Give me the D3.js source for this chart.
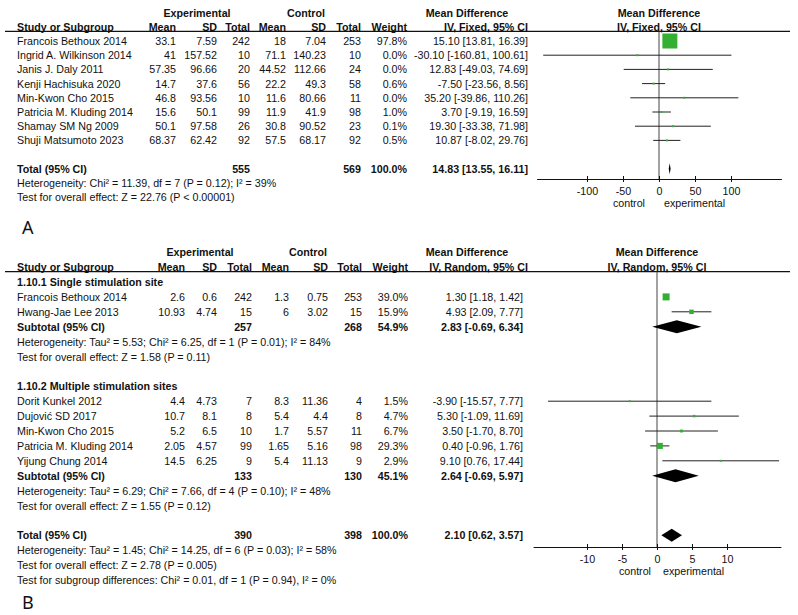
<!DOCTYPE html>
<html>
<head>
<meta charset="utf-8">
<script src="https://cdn.jsdelivr.net/npm/d3@7"></script>
<style>
  body { margin: 0; background: #fff; }
  svg text { font-family: "Liberation Sans", Arial, sans-serif; font-size: 10.7px; fill: #111; }
  .bold { font-weight: bold; }
</style>
</head>
<body>
<div id="chart"></div>
<script>
// ---------- Panel A data ----------
const studiesA = ["Francois Bethoux 2014", "Ingrid A. Wilkinson 2014", "Janis J. Daly 2011", "Kenji Hachisuka 2020",
  "Min-Kwon Cho 2015", "Patricia M. Kluding 2014", "Shamay SM Ng 2009", "Shuji Matsumoto 2023"];
const expMeanA = ["33.1", "41", "57.35", "14.7", "46.8", "15.6", "50.1", "68.37"];
const expSdA = ["7.59", "157.52", "96.66", "37.6", "93.56", "50.1", "97.58", "62.42"];
const expNA = [242, 10, 20, 56, 10, 99, 26, 92];
const ctlMeanA = ["18", "71.1", "44.52", "22.2", "11.6", "11.9", "30.8", "57.5"];
const ctlSdA = ["7.04", "140.23", "112.66", "49.3", "80.66", "41.9", "90.52", "68.17"];
const ctlNA = [253, 10, 24, 58, 11, 98, 23, 92];
const weightA = [97.8, 0.0, 0.0, 0.6, 0.0, 1.0, 0.1, 0.5];
const mdA = [15.10, -30.10, 12.83, -7.50, 35.20, 3.70, 19.30, 10.87];
const loA = [13.81, -160.81, -49.03, -23.56, -39.86, -9.19, -33.38, -8.02];
const hiA = [16.39, 100.61, 74.69, 8.56, 110.26, 16.59, 71.98, 29.76];
const totalA = { expN: 555, ctlN: 569, weight: 100.0, md: 14.83, lo: 13.55, hi: 16.11 };
const notesA = ["Heterogeneity: Chi\u00b2 = 11.39, df = 7 (P = 0.12); I\u00b2 = 39%",
  "Test for overall effect: Z = 22.76 (P < 0.00001)"];
const ticksA = [-100, -50, 0, 50, 100];

// ---------- Panel B data ----------
const groupNamesB = ["1.10.1 Single stimulation site", "1.10.2 Multiple stimulation sites"];
const studiesB = [["Francois Bethoux 2014", "Hwang-Jae Lee 2013"],
  ["Dorit Kunkel 2012", "Dujovi\u0107 SD 2017", "Min-Kwon Cho 2015", "Patricia M. Kluding 2014", "Yijung Chung 2014"]];
const expMeanB = [["2.6", "10.93"], ["4.4", "10.7", "5.2", "2.05", "14.5"]];
const expSdB = [["0.6", "4.74"], ["4.73", "8.1", "6.5", "4.57", "6.25"]];
const expNB = [[242, 15], [7, 8, 10, 99, 9]];
const ctlMeanB = [["1.3", "6"], ["8.3", "5.4", "1.7", "1.65", "5.4"]];
const ctlSdB = [["0.75", "3.02"], ["11.36", "4.4", "5.57", "5.16", "11.13"]];
const ctlNB = [[253, 15], [4, 8, 11, 98, 9]];
const weightB = [[39.0, 15.9], [1.5, 4.7, 6.7, 29.3, 2.9]];
const mdB = [[1.30, 4.93], [-3.90, 5.30, 3.50, 0.40, 9.10]];
const loB = [[1.18, 2.09], [-15.57, -1.09, -1.70, -0.96, 0.76]];
const hiB = [[1.42, 7.77], [7.77, 11.69, 8.70, 1.76, 17.44]];
const subtotalB = [
  { expN: 257, ctlN: 268, weight: 54.9, md: 2.83, lo: -0.69, hi: 6.34 },
  { expN: 133, ctlN: 130, weight: 45.1, md: 2.64, lo: -0.69, hi: 5.97 }];
const subNotesB = [
  ["Heterogeneity: Tau\u00b2 = 5.53; Chi\u00b2 = 6.25, df = 1 (P = 0.01); I\u00b2 = 84%",
   "Test for overall effect: Z = 1.58 (P = 0.11)"],
  ["Heterogeneity: Tau\u00b2 = 6.29; Chi\u00b2 = 7.66, df = 4 (P = 0.10); I\u00b2 = 48%",
   "Test for overall effect: Z = 1.55 (P = 0.12)"]];
const totalB = { expN: 390, ctlN: 398, weight: 100.0, md: 2.10, lo: 0.62, hi: 3.57 };
const notesB = ["Heterogeneity: Tau\u00b2 = 1.45; Chi\u00b2 = 14.25, df = 6 (P = 0.03); I\u00b2 = 58%",
  "Test for overall effect: Z = 2.78 (P = 0.005)",
  "Test for subgroup differences: Chi\u00b2 = 0.01, df = 1 (P = 0.94), I\u00b2 = 0%"];
const ticksB = [-10, -5, 0, 5, 10];

// plain hyphen as minus sign, like the original
const loc = d3.formatLocale({ decimal: ".", thousands: ",", grouping: [3], currency: ["", ""], minus: "-" });
const fmt2 = loc.format(".2f");
const fmtW = loc.format(".1f");
const fmtTick = loc.format("d");
const ciText = (m, l, h) => `${fmt2(m)} [${fmt2(l)}, ${fmt2(h)}]`;

const svg = d3.select("#chart").append("svg").attr("width", 798).attr("height", 615);

function txt(g, x, y, s, anchor, cls) {
  return g.append("text").attr("x", x).attr("y", y + 4)
    .attr("text-anchor", anchor || "start").attr("class", cls || null).text(s);
}

function diamond(g, x, y, md, lo, hi, h) {
  const p = [[x(lo), y], [x(md), y - h / 2], [x(hi), y], [x(md), y + h / 2]];
  g.append("path").attr("d", "M" + p.join("L") + "Z").attr("fill", "#000");
}

function drawPanel(cfg) {
  const g = svg.append("g");
  const c = cfg.cols;
  const y = i => cfg.y0 + cfg.dy * i;

  // headers
  txt(g, c.expHead, y(-2), "Experimental", "middle", "bold");
  txt(g, c.ctlHead, y(-2), "Control", "middle", "bold");
  txt(g, 467, y(-2), "Mean Difference", "middle", "bold");
  txt(g, cfg.x(0), y(-2), "Mean Difference", "middle", "bold");
  txt(g, 17, y(-1), "Study or Subgroup", "start", "bold");
  [["Mean", c.eMean], ["SD", c.eSd], ["Total", c.eN], ["Mean", c.cMean], ["SD", c.cSd], ["Total", c.cN], ["Weight", c.w]]
    .forEach(d => txt(g, d[1], y(-1), d[0], "end", "bold"));
  txt(g, 528, y(-1), cfg.method, "end", "bold");
  txt(g, cfg.x(0), y(-1), cfg.method, "middle", "bold");
  const lineY = y(-1) + 4.5;
  g.append("line").attr("x1", 5).attr("x2", 790).attr("y1", lineY).attr("y2", lineY)
    .attr("stroke", "#111").attr("stroke-width", 1.2);

  // zero line
  g.append("line").attr("x1", cfg.x(0)).attr("x2", cfg.x(0)).attr("y1", lineY).attr("y2", cfg.axisY)
    .attr("stroke", "#444").attr("stroke-width", 1);

  // rows
  cfg.rows.forEach(r => {
    const yy = y(r.i);
    if (r.type === "label") { txt(g, 17, yy, r.text, "start", "bold"); return; }
    if (r.type === "note") { txt(g, 17, yy, r.text); return; }
    const cls = r.type === "study" ? null : "bold";
    txt(g, 17, yy, r.name, "start", cls);
    if (r.type === "study") {
      txt(g, c.eMean, yy, r.eMean, "end");
      txt(g, c.eSd, yy, r.eSd, "end");
      txt(g, c.cMean, yy, r.cMean, "end");
      txt(g, c.cSd, yy, r.cSd, "end");
    }
    txt(g, c.eN, yy, r.eN, "end", cls);
    txt(g, c.cN, yy, r.cN, "end", cls);
    txt(g, c.w, yy, fmtW(r.w) + "%", "end", cls);
    txt(g, c.ci, yy, ciText(r.md, r.lo, r.hi), "end", cls);
    if (r.type === "study") {
      g.append("line").attr("x1", cfg.x(r.lo)).attr("x2", cfg.x(r.hi)).attr("y1", yy).attr("y2", yy)
        .attr("stroke", "#222").attr("stroke-width", 1);
      const s = Math.max(2, cfg.size(r.w));
      g.append("rect").attr("x", cfg.x(r.md) - s / 2).attr("y", yy - s / 2)
        .attr("width", s).attr("height", s).attr("fill", "#33b033");
    } else {
      diamond(g, cfg.x, yy, r.md, r.lo, r.hi, cfg.dh);
    }
  });

  // axis
  const ax = g.append("g").attr("transform", `translate(0,${cfg.axisY})`)
    .call(d3.axisBottom(cfg.x).tickValues(cfg.ticks).tickFormat(fmtTick)
      .tickSize(3).tickSizeOuter(0).tickPadding(5));
  ax.select(".domain").attr("stroke", "#111");
  ax.selectAll(".tick line").attr("y1", -3).attr("y2", 3).attr("stroke", "#111");
  ax.selectAll(".tick text").attr("font-size", 11).attr("font-family", "Liberation Sans, Arial, sans-serif").attr("fill", "#111");
  txt(g, cfg.x(0) - cfg.lab[0], cfg.axisY + 24, "control", "end");
  txt(g, cfg.x(0) + cfg.lab[1], cfg.axisY + 24, "experimental", "start");

  svg.append("text").attr("x", 22).attr("y", cfg.letterY)
    .style("font-family", "'Noto Sans', 'DejaVu Sans', sans-serif").style("font-size", "18px")
    .text(cfg.letter);
}

// ---- build rows for A ----
const rowsA = studiesA.map((s, i) => ({
  type: "study", i: i, name: s, eMean: expMeanA[i], eSd: expSdA[i], eN: expNA[i],
  cMean: ctlMeanA[i], cSd: ctlSdA[i], cN: ctlNA[i], w: weightA[i], md: mdA[i], lo: loA[i], hi: hiA[i]
}));
rowsA.push({ type: "total", i: 9, name: "Total (95% CI)", eN: totalA.expN, cN: totalA.ctlN,
  w: totalA.weight, md: totalA.md, lo: totalA.lo, hi: totalA.hi });
notesA.forEach((n, k) => rowsA.push({ type: "note", i: 10 + k, text: n }));

drawPanel({
  y0: 41, dy: 14.2, rows: rowsA, method: "IV, Fixed, 95% CI",
  cols: { expHead: 197, ctlHead: 306, eMean: 176, eSd: 217, eN: 250, cMean: 286, cSd: 326, cN: 361, w: 407, ci: 528 },
  x: d3.scaleLinear().domain([-170, 170]).range([536.6, 781.4]),
  size: d3.scaleSqrt().domain([0, 97.8]).range([0, 15]),
  dh: 11, axisY: 179, ticks: ticksA, lab: [14, 5], letter: "A", letterY: 234
});

// ---- build rows for B ----
const rowsB = [];
let idx = 0;
groupNamesB.forEach((gname, gi) => {
  rowsB.push({ type: "label", i: idx++, text: gname });
  studiesB[gi].forEach((s, k) => rowsB.push({
    type: "study", i: idx++, name: s, eMean: expMeanB[gi][k], eSd: expSdB[gi][k], eN: expNB[gi][k],
    cMean: ctlMeanB[gi][k], cSd: ctlSdB[gi][k], cN: ctlNB[gi][k], w: weightB[gi][k],
    md: mdB[gi][k], lo: loB[gi][k], hi: hiB[gi][k]
  }));
  const st = subtotalB[gi];
  rowsB.push({ type: "subtotal", i: idx++, name: "Subtotal (95% CI)", eN: st.expN, cN: st.ctlN,
    w: st.weight, md: st.md, lo: st.lo, hi: st.hi });
  subNotesB[gi].forEach(n => rowsB.push({ type: "note", i: idx++, text: n }));
  idx++;
});
rowsB.push({ type: "total", i: idx++, name: "Total (95% CI)", eN: totalB.expN, cN: totalB.ctlN,
  w: totalB.weight, md: totalB.md, lo: totalB.lo, hi: totalB.hi });
notesB.forEach(n => rowsB.push({ type: "note", i: idx++, text: n }));

drawPanel({
  y0: 282, dy: 14.9, rows: rowsB, method: "IV, Random, 95% CI",
  cols: { expHead: 200, ctlHead: 308, eMean: 185, eSd: 217, eN: 252, cMean: 289, cSd: 328, cN: 362, w: 408, ci: 523 },
  x: d3.scaleLinear().domain([-17.7, 17.7]).range([533.1, 780.9]),
  size: d3.scaleSqrt().domain([0, 39]).range([0, 7]),
  dh: 13, axisY: 547, ticks: ticksB, lab: [6, 6], letter: "B", letterY: 609
});
</script>
</body>
</html>
